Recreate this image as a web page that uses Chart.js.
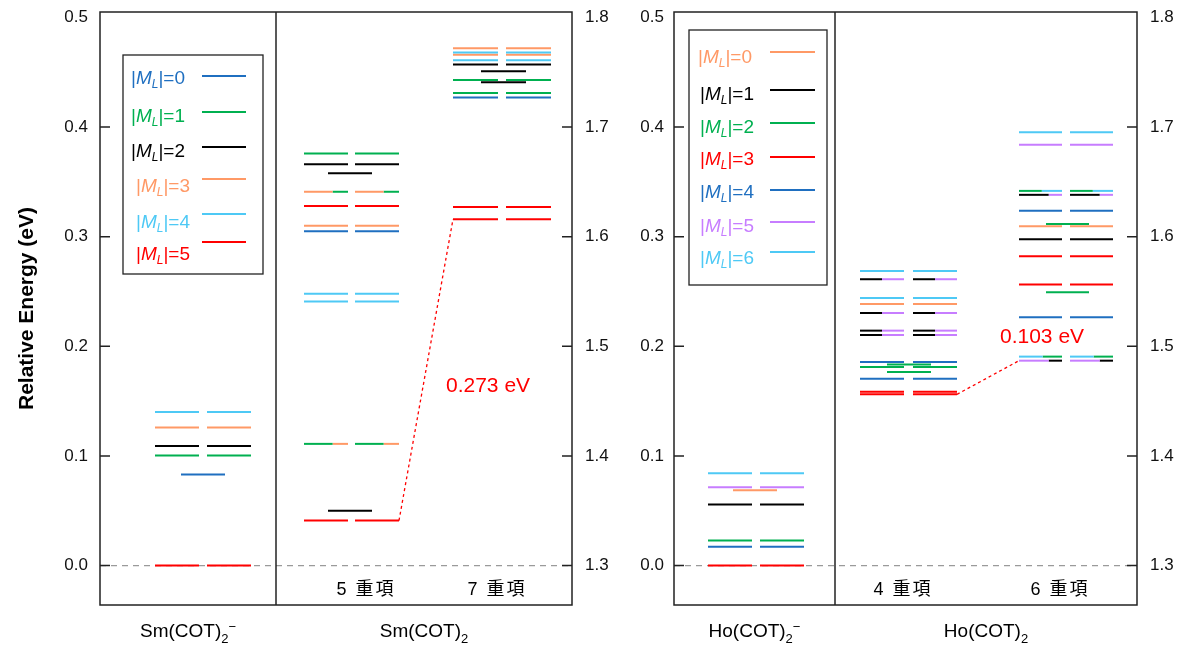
<!DOCTYPE html>
<html>
<head>
<meta charset="utf-8">
<script src="https://cdn.jsdelivr.net/npm/chart.js@4/dist/chart.umd.min.js"></script>
<style>
  html, body { margin: 0; padding: 0; background: #fff; }
  #wrap { position: relative; width: 1183px; height: 645px; }
  canvas { position: absolute; top: 0; }
</style>
</head>
<body>
<div id="wrap">
  <canvas id="smChart" width="622" height="645" style="left:0px"></canvas>
  <canvas id="hoChart" width="561" height="645" style="left:622px"></canvas>
</div>
<script>
"use strict";

// tick labels (left axis is relative energy, right axis = left + 1.3 eV)
const relTicks = [0.0, 0.1, 0.2, 0.3, 0.4, 0.5];
const absTicks = [1.3, 1.4, 1.5, 1.6, 1.7, 1.8];
const axisShift = 1.3;

// |ML| values in the legends
const smML = [0, 1, 2, 3, 4, 5];
const hoML = [0, 1, 2, 3, 4, 5, 6];

// levels: [energy eV, |ML|, |ML| of right part (two-colour line), share of first colour]
// anions are read on the left axis, neutral molecules on the right axis
const smAnionPair = [[0.140, 4], [0.126, 3], [0.109, 2], [0.1005, 1], [0.000, 5]];
const smAnionMid = [[0.083, 0]];
const smQuintetPair = [[1.676, 1], [1.666, 2], [1.641, 3, 1, 0.65], [1.628, 5], [1.610, 3], [1.605, 0],
  [1.548, 4], [1.541, 4], [1.411, 1, 3, 0.65], [1.341, 5]];
const smQuintetMid = [[1.658, 2], [1.350, 2]];
const smSeptetPair = [[1.772, 3], [1.768, 4], [1.766, 3], [1.761, 4], [1.757, 2], [1.743, 1],
  [1.731, 1], [1.727, 0], [1.627, 5], [1.616, 5]];
const smSeptetMid = [[1.751, 2], [1.741, 2]];

const hoAnionPair = [[0.0843, 6], [0.0715, 5], [0.0557, 1], [0.0228, 2], [0.0171, 4], [0.000, 3]];
const hoAnionMid = [[0.0688, 0]];
const hoQuartetPair = [[1.5688, 6], [1.5612, 1, 5, 0.5], [1.5441, 6], [1.5386, 0], [1.5304, 1, 5, 0.5],
  [1.5143, 1, 5, 0.5], [1.5103, 1, 5, 0.5], [1.4857, 4], [1.4811, 2], [1.4705, 4], [1.4586, 3], [1.4562, 3]];
const hoQuartetMid = [[1.4833, 2], [1.4765, 2]];
const hoSextetPair = [[1.6952, 6], [1.6839, 5], [1.6418, 2, 6, 0.53], [1.6382, 1, 5, 0.69], [1.6236, 4],
  [1.6096, 0], [1.5977, 1], [1.5822, 3], [1.5563, 3], [1.5265, 4], [1.4906, 6, 2, 0.55], [1.4869, 5, 1, 0.69]];
const hoSextetMid = [[1.6117, 2], [1.5493, 2]];

// text
const smNames = [{ base: "Sm(COT)", sub: "2", sup: "\u2212" }, { base: "Sm(COT)", sub: "2", sup: "" }];
const hoNames = [{ base: "Ho(COT)", sub: "2", sup: "\u2212" }, { base: "Ho(COT)", sub: "2", sup: "" }];
const smSpin = ["5 重項", "7 重項"];
const hoSpin = ["4 重項", "6 重項"];
const gapText = ["0.273 eV", "0.103 eV"];

// colours per |ML|
const smColors = ["#1f6fc0", "#00b050", "#000000", "#ff9966", "#4ec9f5", "#ff0000"];
const hoColors = ["#ff9966", "#000000", "#00b050", "#ff0000", "#1f6fc0", "#c77dff", "#4ec9f5"];

const FONT = "'Liberation Sans', Arial, sans-serif";
const yMin = -0.036;
const yMax = 0.505;

function seg(x1, x2, e, color, axis) {
  return {
    data: [{ x: x1, y: e }, { x: x2, y: e }],
    yAxisID: axis,
    borderColor: color,
    borderWidth: 2,
    borderCapStyle: "butt",
    pointRadius: 0,
    fill: false,
    tension: 0
  };
}

function levelSets(levels, starts, w, axis, colors) {
  let out = [];
  levels.forEach(function (lv) {
    let e = lv[0], ml = lv[1], ml2 = lv[2], share = lv[3];
    starts.forEach(function (x0) {
      if (ml2 === undefined) {
        out.push(seg(x0, x0 + w, e, colors[ml], axis));
      } else {
        let xm = x0 + w * share;
        out.push(seg(x0, xm, e, colors[ml], axis));
        out.push(seg(xm, x0 + w, e, colors[ml2], axis));
      }
    });
  });
  return out;
}

function lowest(levels) {
  let m = levels[0][0];
  for (let i = 0; i < levels.length; i++) {
    if (levels[i][0] < m) m = levels[i][0];
  }
  return m;
}

function drawML(ctx, x, y, ml, color, size) {
  ctx.fillStyle = color;
  ctx.textBaseline = "middle";
  ctx.textAlign = "left";
  let normal = size + "px " + FONT;
  ctx.font = normal;
  ctx.fillText("|", x, y);
  x += ctx.measureText("|").width;
  ctx.font = "italic " + size + "px " + FONT;
  ctx.fillText("M", x, y);
  x += ctx.measureText("M").width;
  ctx.font = "italic " + Math.round(size * 0.65) + "px " + FONT;
  ctx.fillText("L", x, y + size * 0.3);
  x += ctx.measureText("L").width;
  ctx.font = normal;
  ctx.fillText("|=" + ml, x, y);
}

function drawFormula(ctx, cx, y, f, size) {
  let big = size + "px " + FONT;
  let small = Math.round(size * 0.7) + "px " + FONT;
  ctx.font = big;
  let wb = ctx.measureText(f.base).width;
  ctx.font = small;
  let ws = ctx.measureText(f.sub).width;
  let wp = f.sup ? ctx.measureText(f.sup).width : 0;
  let x = cx - (wb + ws + wp) / 2;
  ctx.textAlign = "left";
  ctx.textBaseline = "alphabetic";
  ctx.fillStyle = "#000";
  ctx.font = big;
  ctx.fillText(f.base, x, y);
  x += wb;
  ctx.font = small;
  ctx.fillText(f.sub, x, y + size * 0.3);
  if (f.sup) ctx.fillText(f.sup, x + ws, y - size * 0.3);
}

// frame, inward ticks, divider, zero line, legend and labels
const framePlugin = {
  id: "frame",
  beforeDatasetsDraw(chart, args, o) {
    const ctx = chart.ctx, a = chart.chartArea;
    const y0 = chart.scales.y.getPixelForValue(0);
    ctx.save();
    ctx.strokeStyle = "#9a9a9a";
    ctx.lineWidth = 1.3;
    ctx.setLineDash([6, 5]);
    ctx.beginPath();
    ctx.moveTo(a.left, y0);
    ctx.lineTo(a.right, y0);
    ctx.stroke();
    ctx.restore();
  },
  afterDraw(chart, args, o) {
    const ctx = chart.ctx, a = chart.chartArea, sx = chart.scales.x;
    const L = o.canvasLeft;
    ctx.save();
    ctx.strokeStyle = "#222";
    ctx.lineWidth = 1.5;
    ctx.strokeRect(a.left, a.top, a.right - a.left, a.bottom - a.top);
    const dx = sx.getPixelForValue(o.divider);
    ctx.beginPath();
    ctx.moveTo(dx, a.top);
    ctx.lineTo(dx, a.bottom);
    ctx.stroke();
    // inward ticks, none at the top value
    ctx.beginPath();
    relTicks.slice(0, -1).forEach(function (v) {
      const y = chart.scales.y.getPixelForValue(v);
      ctx.moveTo(a.left, y);
      ctx.lineTo(a.left + 10, y);
    });
    absTicks.slice(0, -1).forEach(function (v) {
      const y = chart.scales.y2.getPixelForValue(v);
      ctx.moveTo(a.right - 10, y);
      ctx.lineTo(a.right, y);
    });
    ctx.stroke();

    // legend
    const lg = o.legend;
    ctx.fillStyle = "#fff";
    ctx.fillRect(lg.box[0] - L, lg.box[1], lg.box[2] - lg.box[0], lg.box[3] - lg.box[1]);
    ctx.strokeStyle = "#222";
    ctx.lineWidth = 1.3;
    ctx.strokeRect(lg.box[0] - L, lg.box[1], lg.box[2] - lg.box[0], lg.box[3] - lg.box[1]);
    o.ml.forEach(function (m, i) {
      drawML(ctx, lg.textX[i] - L, lg.textY[i], m, o.colors[m], 19);
      ctx.strokeStyle = o.colors[m];
      ctx.lineWidth = 2.2;
      ctx.beginPath();
      ctx.moveTo(lg.lineX[0] - L, lg.lineY[i]);
      ctx.lineTo(lg.lineX[1] - L, lg.lineY[i]);
      ctx.stroke();
    });

    // labels under the frame
    drawFormula(ctx, (a.left + dx) / 2, 637, o.names[0], 19);
    drawFormula(ctx, (dx + a.right) / 2, 637, o.names[1], 19);
    ctx.fillStyle = "#000";
    ctx.font = "18px " + FONT + ", 'Noto Sans CJK JP'";
    ctx.letterSpacing = "2px";
    ctx.textAlign = "center";
    ctx.textBaseline = "middle";
    o.spin.forEach(function (t, i) {
      ctx.fillText(t, o.spinX[i] - L, o.spinY);
    });
    ctx.letterSpacing = "0px";

    // energy gap
    ctx.fillStyle = "#ff0000";
    ctx.font = "21px " + FONT;
    ctx.textAlign = "left";
    ctx.fillText(o.gap, o.gapPos[0] - L, o.gapPos[1]);
    ctx.restore();
  }
};

function makeChart(id, cfg) {
  const g = cfg.groups;
  let sets = [];
  sets = sets.concat(levelSets(cfg.anionPair, g[0].pair, g[0].w, "y", cfg.colors));
  sets = sets.concat(levelSets(cfg.anionMid, [g[0].mid], g[0].w, "y", cfg.colors));
  sets = sets.concat(levelSets(cfg.lowPair, g[1].pair, g[1].w, "y2", cfg.colors));
  sets = sets.concat(levelSets(cfg.lowMid, [g[1].mid], g[1].w, "y2", cfg.colors));
  sets = sets.concat(levelSets(cfg.highPair, g[2].pair, g[2].w, "y2", cfg.colors));
  sets = sets.concat(levelSets(cfg.highMid, [g[2].mid], g[2].w, "y2", cfg.colors));
  // dotted link between the two ground states
  sets.push({
    data: [
      { x: g[1].pair[1] + g[1].w, y: lowest(cfg.lowPair) },
      { x: g[2].pair[0], y: lowest(cfg.highPair) }
    ],
    yAxisID: "y2",
    borderColor: "#ff0000",
    borderWidth: 1.3,
    borderDash: [3, 3],
    pointRadius: 0,
    fill: false
  });

  const canvasW = document.getElementById(id).width;
  const tickFont = { family: FONT, size: 17 };

  return new Chart(document.getElementById(id), {
    type: "line",
    data: { datasets: sets },
    plugins: [framePlugin],
    options: {
      responsive: false,
      animation: false,
      events: [],
      layout: { padding: { top: 12, bottom: 40, left: 0, right: 0 } },
      plugins: {
        legend: { display: false },
        tooltip: { enabled: false },
        frame: {
          canvasLeft: cfg.canvasLeft,
          divider: cfg.divider,
          legend: cfg.legend,
          ml: cfg.ml,
          colors: cfg.colors,
          names: cfg.names,
          spin: cfg.spin,
          spinX: cfg.spinX,
          spinY: 590,
          gap: cfg.gap,
          gapPos: cfg.gapPos
        }
      },
      scales: {
        x: { type: "linear", display: false, min: 0, max: cfg.right - cfg.left },
        y: {
          type: "linear",
          position: "left",
          min: yMin,
          max: yMax,
          grid: { display: false, drawTicks: false },
          border: { display: false },
          afterBuildTicks: function (s) { s.ticks = relTicks.map(function (v) { return { value: v }; }); },
          afterFit: function (s) {
            s.width = cfg.left - cfg.canvasLeft;
            s.paddingTop = 0;
            s.paddingBottom = 0;
          },
          ticks: { padding: cfg.leftPad, color: "#111", font: tickFont, callback: function (v) { return v.toFixed(1); } },
          title: {
            display: cfg.title !== "",
            text: cfg.title,
            color: "#000",
            font: { family: FONT, size: 21, weight: "bold" },
            padding: { top: 15, bottom: 0 }
          }
        },
        y2: {
          type: "linear",
          position: "right",
          min: yMin + axisShift,
          max: yMax + axisShift,
          grid: { display: false, drawTicks: false },
          border: { display: false },
          afterBuildTicks: function (s) { s.ticks = absTicks.map(function (v) { return { value: v }; }); },
          afterFit: function (s) {
            s.width = cfg.canvasLeft + canvasW - cfg.right;
            s.paddingTop = 0;
            s.paddingBottom = 0;
          },
          ticks: { padding: 13, color: "#111", font: tickFont, callback: function (v) { return v.toFixed(1); } }
        }
      }
    }
  });
}

makeChart("smChart", {
  canvasLeft: 0, left: 100, right: 572, divider: 176, leftPad: 12,
  title: "Relative Energy (eV)",
  groups: [
    { pair: [55, 107], mid: 81, w: 44 },
    { pair: [204, 255], mid: 228, w: 44 },
    { pair: [353, 406], mid: 381, w: 45 }
  ],
  anionPair: smAnionPair, anionMid: smAnionMid,
  lowPair: smQuintetPair, lowMid: smQuintetMid,
  highPair: smSeptetPair, highMid: smSeptetMid,
  colors: smColors, ml: smML, names: smNames,
  spin: smSpin, spinX: [366, 497],
  gap: gapText[0], gapPos: [446, 386],
  legend: {
    box: [123, 55, 263, 274],
    textX: [131, 131, 131, 136, 136, 136],
    textY: [79, 117, 152, 187, 223, 255],
    lineX: [202, 246],
    lineY: [76, 112, 147, 179, 214, 242]
  }
});

makeChart("hoChart", {
  canvasLeft: 622, left: 674, right: 1137, divider: 161, leftPad: 10,
  title: "",
  groups: [
    { pair: [34, 86], mid: 59, w: 44 },
    { pair: [186, 239], mid: 213, w: 44 },
    { pair: [345, 396], mid: 372, w: 43 }
  ],
  anionPair: hoAnionPair, anionMid: hoAnionMid,
  lowPair: hoQuartetPair, lowMid: hoQuartetMid,
  highPair: hoSextetPair, highMid: hoSextetMid,
  colors: hoColors, ml: hoML, names: hoNames,
  spin: hoSpin, spinX: [903, 1060],
  gap: gapText[1], gapPos: [1000, 337],
  legend: {
    box: [689, 30, 827, 285],
    textX: [698, 700, 700, 700, 700, 700, 700],
    textY: [58, 95, 128, 160, 193, 227, 259],
    lineX: [770, 815],
    lineY: [52, 90, 123, 157, 190, 222, 252]
  }
});
</script>
</body>
</html>
